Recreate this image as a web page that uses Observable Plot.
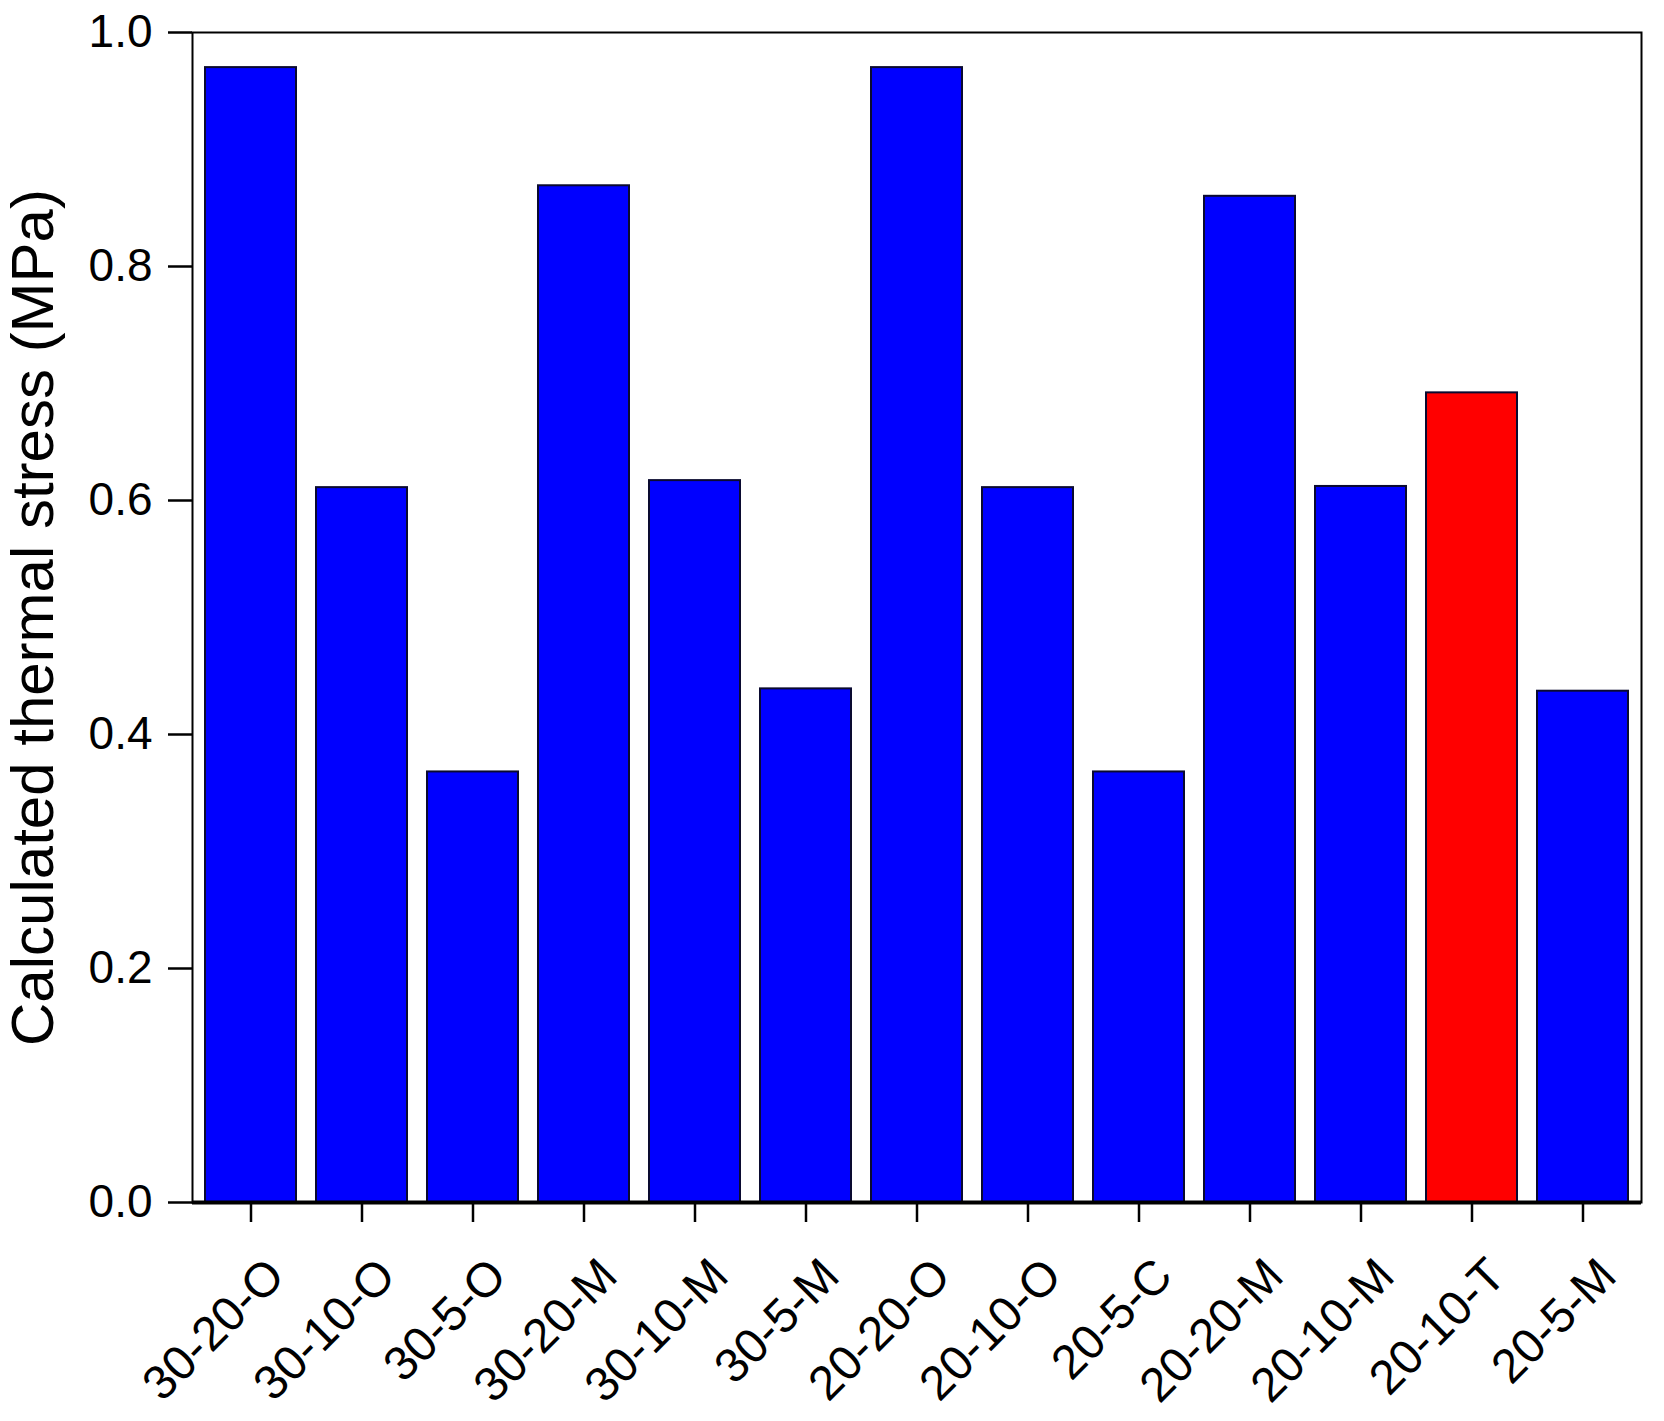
<!DOCTYPE html>
<html>
<head>
<meta charset="utf-8">
<script src="https://cdn.jsdelivr.net/npm/d3@7"></script>
<script src="https://cdn.jsdelivr.net/npm/@observablehq/plot@0.6"></script>
<style>
  html, body { margin: 0; padding: 0; background: #fff; }
</style>
</head>
<body>
<div id="chart"></div>
<script>
const categories = ["30-20-O","30-10-O","30-5-O","30-20-M","30-10-M","30-5-M","20-20-O","20-10-O","20-5-C","20-20-M","20-10-M","20-10-T","20-5-M"];
const stress = [0.970, 0.611, 0.368, 0.869, 0.617, 0.439, 0.970, 0.611, 0.368, 0.860, 0.612, 0.692, 0.437];
const highlighted = ["20-10-T"];
const yTicks = [0, 0.2, 0.4, 0.6, 0.8, 1.0];
const yLabel = "Calculated thermal stress (MPa)";

const data = categories.map((c, i) => ({cat: c, value: stress[i], group: highlighted.includes(c) ? "highlight" : "normal"}));

const chart = Plot.plot({
  width: 1664,
  height: 1421,
  marginLeft: 192,
  marginRight: 23,
  marginTop: 32,
  marginBottom: 219,
  style: {fontFamily: "'Liberation Sans', Arial, sans-serif", background: "#fff", color: "#000"},
  x: {domain: categories, paddingInner: 0.18, paddingOuter: 0.09, label: null},
  y: {domain: [0, 1], label: yLabel},
  color: {domain: ["normal", "highlight"], range: ["#0000ff", "#ff0000"]},
  marks: [
    Plot.barY(data, {x: "cat", y: "value", fill: "group", stroke: "#0a0a30", strokeWidth: 2}),
    Plot.frame({stroke: "#000", strokeWidth: 2}),
    Plot.ruleY([0], {stroke: "#000", strokeWidth: 4}),
    Plot.axisY({ticks: yTicks, tickFormat: ".1f", tickSize: 24, tickPadding: 16, fontSize: 46, strokeWidth: 2.5,
      label: yLabel, labelAnchor: "center", labelArrow: "none", labelOffset: 182}),
    Plot.axisX({tickSize: 20, strokeWidth: 2.5, text: null, label: null}),
    Plot.axisX({tickSize: 0, tickPadding: 65, dx: 25, tickRotate: -45, fontSize: 48, label: null})
  ]
});
document.getElementById("chart").appendChild(chart);
const lab = chart.querySelector('[aria-label="y-axis label"]');
if (lab) lab.setAttribute("font-size", "60");
</script>
</body>
</html>
